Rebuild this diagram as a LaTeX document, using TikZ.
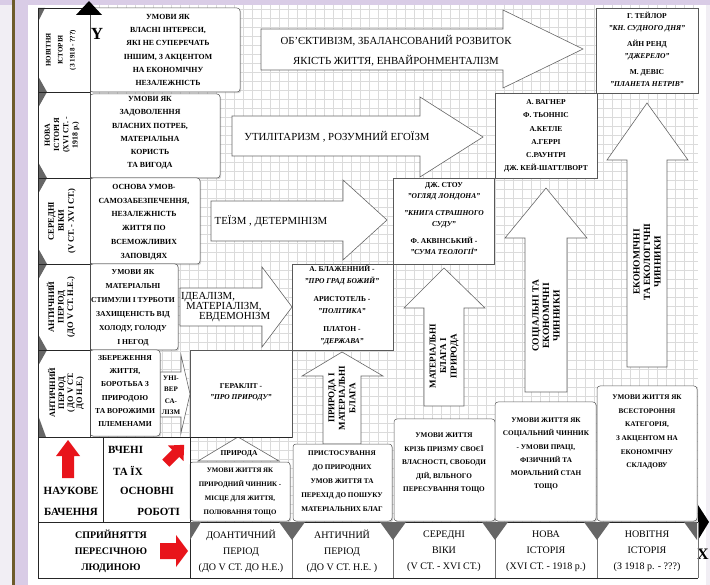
\documentclass[tikz,border=0pt]{standalone}
\usepackage{fontspec}
\setmainfont{Liberation Serif}
\usetikzlibrary{shadows}
\newcommand\fsz[2]{\fontsize{#1}{#2}\selectfont}
\definecolor{lav}{HTML}{D9CCE6}
\definecolor{lavl}{HTML}{F1EEF4}
\definecolor{olivebar}{HTML}{6E5B2A}
\definecolor{redar}{HTML}{E8141B}
\begin{document}
\begin{tikzpicture}[x=1pt,y=-1pt,
  every node/.style={inner sep=0pt,outer sep=0pt},
  gridline/.style={draw=black!14,line width=0.35pt,step=9pt},
  frame/.style={draw=black!85,line width=0.7pt},
  lightframe/.style={draw=black!55,line width=0.5pt},
  trif/.style={fill=black!60},
  shad/.style={drop shadow={opacity=0.35,shadow xshift=1.2pt,shadow yshift=-1.2pt}},
  desc/.style={shad,draw=black!65,fill=white,rounded corners=3pt,line width=0.5pt,anchor=north west},
  dtext/.style={align=center,font={\bfseries\fsz{7.8}{13.3}}},
  auth/.style={shad,draw=black!65,fill=white,line width=0.5pt,anchor=north west},
  atxt/.style={align=center,font={\bfseries\fsz{7.5}{12}}},
  barrow/.style={draw=black!60,fill=white,line width=0.6pt,line join=miter},
  arrtext/.style={align=center,font={\fsz{10.8}{19.5}}},
  vtext/.style={align=center,rotate=90,font={\bfseries\fsz{9}{10.5}}},
  rowlab/.style={align=center,rotate=90},
  ltext/.style={align=center,font={\bfseries\fsz{7.2}{13.5}}},
  bottext/.style={align=center,font={\fsz{10}{16}}},
  bigtext/.style={font={\bfseries\fsz{11}{11}}},
  redfill/.style={fill=redar},
]
\useasboundingbox (0,0) rectangle (710,585);
% background
\fill[lavl] (0,0) rectangle (710,585);
\fill[white] (28,5) rectangle (706,585);
\fill[lav] (0,0) rectangle (710,5);
\fill[lav] (15,0) rectangle (28,585);
\fill[olivebar] (12,0) rectangle (15,585);
% grid
\draw[gridline] (90,5) grid (698,522);
\fill[white] (38,437) rectangle (190,522);

% ---------- horizontal big arrows ----------
\draw[barrow] (261,29) -- (503,29) -- (503,10) -- (583,49) -- (503,88) -- (503,70) -- (261,70) -- cycle;
\node[arrtext] (t1) at (396,51) {ОБ'ЄКТИВІЗМ, ЗБАЛАНСОВАНИЙ РОЗВИТОК\\ЯКІСТЬ ЖИТТЯ, ЕНВАЙРОНМЕНТАЛІЗМ};
\draw[barrow] (232,116) -- (420,116) -- (420,97) -- (483,137) -- (420,177) -- (420,156) -- (232,156) -- cycle;
\node[arrtext] (t2) at (337,137) {УТИЛІТАРИЗМ , РОЗУМНИЙ ЕГОЇЗМ};
\draw[barrow] (211,201) -- (343,201) -- (343,180) -- (387,220) -- (343,260) -- (343,241) -- (211,241) -- cycle;
\node[arrtext] (t3) at (271,221) {ТЕЇЗМ , ДЕТЕРМІНІЗМ};
\draw[barrow] (180,288) -- (262,288) -- (262,267) -- (292,307) -- (262,347) -- (262,326) -- (180,326) -- cycle;
\node[arrtext,anchor=west] (t4a) at (181,297) {ІДЕАЛІЗМ,};
\node[arrtext,anchor=west] (t4b) at (186,307) {МАТЕРІАЛІЗМ,};
\node[arrtext,anchor=west] (t4c) at (199,317) {ЕВДЕМОНІЗМ};
\draw[barrow] (160,372) -- (181,372) -- (181,355) -- (190,394) -- (181,433) -- (181,417) -- (160,417) -- cycle;
\node[align=center,font={\bfseries\fsz{7}{11.5}}] (t5) at (171,395) {УНІ-\\ВЕР\\СА-\\ЛІЗМ};

% ---------- vertical arrows ----------
\draw[barrow] (323,444) -- (323,376) -- (302,376) -- (342,352) -- (383,376) -- (361,376) -- (361,444) -- cycle;
\node[vtext] (v2) at (342,398) {ПРИРОДА І\\МАТЕРІАЛЬНІ\\БЛАГА};
\draw[barrow] (424,406) -- (424,308) -- (404,308) -- (444,268) -- (485,308) -- (464,308) -- (464,406) -- cycle;
\node[vtext] (v3) at (444,356) {МАТЕРІАЛЬНІ\\БЛАГА І\\ПРИРОДА};
\draw[barrow] (525,392) -- (525,238) -- (505,238) -- (546,188) -- (587,238) -- (567,238) -- (567,392) -- cycle;
\node[vtext,font={\bfseries\fsz{9.5}{10.5}}] (v4) at (546,316) {СОЦІАЛЬНІ ТА\\ЕКОНОМІЧНІ\\ЧИННИКИ};
\draw[barrow] (627,367) -- (627,160) -- (607,160) -- (647,103) -- (688,160) -- (667,160) -- (667,367) -- cycle;
\node[vtext,font={\bfseries\fsz{9.5}{10.5}}] (v5) at (647,262) {ЕКОНОМІЧНІ\\ТА ЕКОЛОГІЧНІ\\ЧИННИКИ};
\draw[barrow] (198,461) -- (238,437) -- (279,461) -- cycle;
\node[font={\bfseries\fsz{7.5}{8}}] (pr) at (239,454) {ПРИРОДА};

% ---------- left description boxes ----------
\node[desc,minimum width=150pt,minimum height=84pt] (d1) at (90,8) {};
\node[dtext] (d1t) at (168,50) {УМОВИ ЯК\\ВЛАСНІ ІНТЕРЕСИ,\\ЯКІ НЕ СУПЕРЕЧАТЬ\\ІНШИМ, З АКЦЕНТОМ\\НА ЕКОНОМІЧНУ\\НЕЗАЛЕЖНІСТЬ};
\node[desc,minimum width=130pt,minimum height=84pt] (d2) at (90,94) {};
\node[dtext] (d2t) at (150,133) {УМОВИ ЯК\\ЗАДОВОЛЕННЯ\\ВЛАСНИХ ПОТРЕБ,\\МАТЕРІАЛЬНА\\КОРИСТЬ\\ТА ВИГОДА};
\node[desc,minimum width=110pt,minimum height=86pt] (d3) at (90,178) {};
\node[dtext,font={\bfseries\fsz{7.8}{13.8}}] (d3t) at (144,222) {ОСНОВА УМОВ-\\САМОЗАБЕЗПЕЧЕННЯ,\\НЕЗАЛЕЖНІСТЬ\\ЖИТТЯ ПО\\ВСЕМОЖЛИВИХ\\ЗАПОВІДЯХ};
\node[desc,minimum width=88pt,minimum height=86pt] (d4) at (90,264) {};
\node[dtext,font={\bfseries\fsz{7.6}{14}}] (d4t) at (133,308) {УМОВИ ЯК\\МАТЕРІАЛЬНІ\\СТИМУЛИ І ТУРБОТИ\\ЗАХИЩЕНІСТЬ ВІД\\ХОЛОДУ, ГОЛОДУ\\І НЕГОД};
\node[desc,minimum width=70pt,minimum height=86pt] (d5) at (90,350) {};
\node[dtext,font={\bfseries\fsz{7.6}{13.2}}] (d5t) at (125,391) {ЗБЕРЕЖЕННЯ\\ЖИТТЯ,\\БОРОТЬБА З\\ПРИРОДОЮ\\ТА ВОРОЖИМИ\\ПЛЕМЕНАМИ};

% ---------- authors boxes ----------
\node[auth,minimum width=102pt,minimum height=85pt] (a1) at (596,8) {};
\node[atxt] (a1t) at (647,49) {Г. ТЕЙЛОР\\\textit{"КН. СУДНОГО ДНЯ"}\\[4pt]АЙН РЕНД\\\textit{"ДЖЕРЕЛО"}\\[4pt]М. ДЕВІС\\\textit{"ПЛАНЕТА НЕТРІВ"}};
\node[auth,minimum width=102pt,minimum height=85pt] (a2) at (495,93) {};
\node[atxt,font={\bfseries\fsz{7.5}{13.2}}] (a2t) at (546,136) {А. ВАГНЕР\\Ф. ТЬОННІС\\А.КЕТЛЕ\\А.ГЕРРІ\\С.РАУНТРІ\\ДЖ. КЕЙ-ШАТТЛВОРТ};
\node[auth,minimum width=101pt,minimum height=86pt] (a3) at (393,178) {};
\node[atxt,font={\bfseries\fsz{7.5}{11}}] (a3t) at (444,219) {ДЖ. СТОУ\\\textit{"ОГЛЯД ЛОНДОНА"}\\[6pt]\textit{"КНИГА СТРАШНОГО}\\\textit{СУДУ"}\\[6pt]Ф. АКВІНСЬКИЙ -\\\textit{"СУМА ТЕОЛОГІЇ"}};
\node[auth,minimum width=101pt,minimum height=86pt] (a4) at (292,264) {};
\node[atxt,font={\bfseries\fsz{7.5}{12.5}}] (a4t) at (342,305) {А. БЛАЖЕННИЙ -\\\textit{"ПРО ГРАД БОЖИЙ"}\\[5pt]АРИСТОТЕЛЬ -\\\textit{"ПОЛІТИКА"}\\[5pt]ПЛАТОН -\\\textit{"ДЕРЖАВА"}};
\node[auth,minimum width=102pt,minimum height=87pt] (a5) at (190,350) {};
\node[atxt,font={\bfseries\fsz{7.5}{11}}] (a5t) at (241,392) {ГЕРАКЛІТ -\\\textit{"ПРО ПРИРОДУ"}};

% ---------- lower condition boxes ----------
\node[desc,minimum width=100pt,minimum height=59pt] (c1) at (190,462) {};
\node[ltext,font={\bfseries\fsz{6.9}{13.7}}] (c1t) at (240,492) {УМОВИ ЖИТТЯ ЯК\\ПРИРОДНИЙ ЧИННИК -\\МІСЦЕ ДЛЯ ЖИТТЯ,\\ПОЛЮВАННЯ ТОЩО};
\node[desc,minimum width=99pt,minimum height=77pt] (c2) at (293,444) {};
\node[ltext,font={\bfseries\fsz{7.2}{14}}] (c2t) at (342,481) {ПРИСТОСУВАННЯ\\ДО ПРИРОДНИХ\\УМОВ ЖИТТЯ ТА\\ПЕРЕХІД ДО ПОШУКУ\\МАТЕРІАЛЬНИХ БЛАГ};
\node[desc,minimum width=101pt,minimum height=102pt] (c3) at (394,419) {};
\node[ltext] (c3t) at (444,463) {УМОВИ ЖИТТЯ\\КРІЗЬ ПРИЗМУ СВОЄЇ\\ВЛАСНОСТІ, СВОБОДИ\\ДІЙ, ВІЛЬНОГО\\ПЕРЕСУВАННЯ ТОЩО};
\node[desc,minimum width=101pt,minimum height=119pt] (c4) at (495,402) {};
\node[ltext,font={\bfseries\fsz{7.2}{13.2}}] (c4t) at (546,454) {УМОВИ ЖИТТЯ ЯК\\СОЦІАЛЬНИЙ ЧИННИК\\- УМОВИ ПРАЦІ,\\ФІЗИЧНИЙ ТА\\МОРАЛЬНИЙ СТАН\\ТОЩО};
\node[desc,minimum width=100pt,minimum height=135pt] (c5) at (597,386) {};
\node[ltext,font={\bfseries\fsz{7.2}{13.6}}] (c5t) at (647,432) {УМОВИ ЖИТТЯ ЯК\\ВСЕСТОРОННЯ\\КАТЕГОРІЯ,\\З АКЦЕНТОМ НА\\ЕКОНОМІЧНУ\\СКЛАДОВУ};

% ---------- left label column ----------
\fill[white] (38,8) rectangle (90,437);
\foreach \yb in {92,178,264,350} {\fill[trif] (38,\yb-16) -- (47,\yb) -- (38,\yb+16) -- cycle;}
\fill[trif] (38,8) -- (45,8) -- (38,22) -- cycle;
\fill[trif] (38,437) -- (46,437) -- (38,415) -- cycle;
\draw[frame] (38,8) -- (90,8);
\foreach \yb in {92,178,264,350} {\draw[frame] (38,\yb) -- (90,\yb);}
\node[rowlab,font={\bfseries\fsz{7}{12}}] (r1) at (61,50) {НОВІТНЯ\\ІСТОРІЯ\\(З 1918 - ???)};
\node[rowlab,font={\bfseries\fsz{7.8}{9.3}}] (r2) at (62,135) {НОВА\\ІСТОРІЯ\\(XVI СТ. -\\1918 р.)};
\node[rowlab,font={\bfseries\fsz{8.5}{10}}] (r3) at (62,221) {СЕРЕДНІ\\ВІКИ\\(V СТ. - XVI СТ.)};
\node[rowlab,font={\bfseries\fsz{8.5}{9.5}}] (r4) at (61,307) {АНТИЧНИЙ\\ПЕРІОД\\(ДО V СТ. Н.Е.)};
\node[rowlab,font={\bfseries\fsz{8.3}{9}}] (r5) at (66,393) {АНТИЧНИЙ\\ПЕРІОД\\( ДО V СТ.\\ДО Н.Е.)};

% ---------- axes ----------
\draw[draw=black!70,line width=0.6pt] (90,14) -- (90,437);
\fill[black] (76,15) -- (89,1) -- (102,15) -- cycle;
\node[font={\bfseries\fsz{17}{17}}] (ylab) at (97,34) {Y};
\draw[frame] (38,8) -- (38,578);
\draw[frame,line width=1pt] (38,437) -- (292,437);
\draw[frame,line width=0.9pt] (38,522) -- (699,522);
\fill[black] (698,505) -- (709,522) -- (698,540) -- cycle;
\node[font={\bfseries\fsz{16}{16}}] (xlab) at (703,554) {X};

% ---------- middle band ----------
\draw[frame] (103,437) -- (103,522);
\draw[frame] (190,437) -- (190,578);
\fill[redfill] (62,478) -- (62,456) -- (56,456) -- (68,440) -- (80,456) -- (74,456) -- (74,478) -- cycle;
\begin{scope}[shift={(175,454)},rotate=45]
\fill[redfill] (-13,-5) -- (1,-5) -- (1,-11) -- (13,0) -- (1,11) -- (1,5) -- (-13,5) -- cycle;
\end{scope}
\node[bigtext] (nb1) at (71,491) {НАУКОВЕ};
\node[bigtext] (nb2) at (71,512) {БАЧЕННЯ};
\node[bigtext,anchor=west] (vc1) at (108,450) {ВЧЕНІ};
\node[bigtext,anchor=west] (vc2) at (113,471) {ТА ЇХ};
\node[bigtext,anchor=west] (vc3) at (120,491) {ОСНОВНІ};
\node[bigtext,anchor=east] (vc4) at (180,512) {РОБОТІ};

% ---------- bottom row ----------
\draw[frame] (38,578) -- (698,578);
\foreach \xb in {292,393,495,597} {\draw[lightframe] (\xb,522) -- (\xb,578);}
\draw[lightframe] (698,522) -- (698,578);
\foreach \xb in {292,393,495,597} {\fill[trif] (\xb-13,522) -- (\xb+13,522) -- (\xb,540) -- cycle;}
\fill[trif] (190,522) -- (201,522) -- (190,540) -- cycle;
\fill[trif] (684,522) -- (697,522) -- (697,540) -- cycle;
\fill[redfill] (160,543) -- (176,543) -- (176,535) -- (188,551) -- (176,567) -- (176,559) -- (160,559) -- cycle;
\node[align=center,font={\bfseries\fsz{10}{16}}] (b0) at (111,551) {СПРИЙНЯТТЯ\\ПЕРЕСІЧНОЮ\\ЛЮДИНОЮ};
\node[bottext] (b1) at (241,551) {ДОАНТИЧНИЙ\\ПЕРІОД\\(ДО V СТ. ДО Н.Е.)};
\node[bottext] (b2) at (342,551) {АНТИЧНИЙ\\ПЕРІОД\\(ДО V СТ. Н.Е. )};
\node[bottext] (b3) at (444,551) {СЕРЕДНІ\\ВІКИ\\(V СТ. - XVI СТ.)};
\node[bottext] (b4) at (546,551) {НОВА\\ІСТОРІЯ\\(XVI СТ. - 1918 р.)};
\node[bottext] (b5) at (647,551) {НОВІТНЯ\\ІСТОРІЯ\\(З 1918 р. - ???)};
\end{tikzpicture}
\end{document}
